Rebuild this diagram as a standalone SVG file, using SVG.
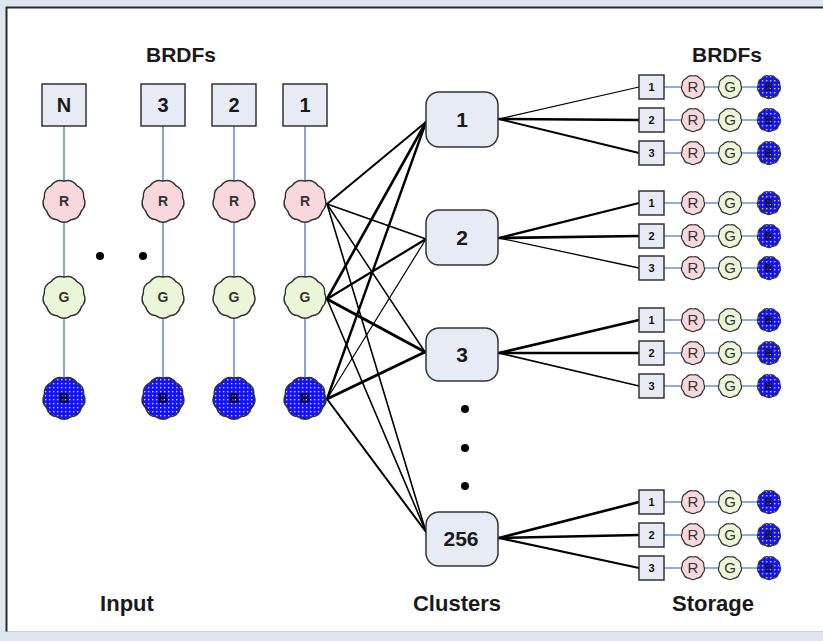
<svg xmlns="http://www.w3.org/2000/svg" xmlns:xlink="http://www.w3.org/1999/xlink" width="823" height="641" viewBox="0 0 823 641">
<style>
.lbl{font-family:"Liberation Sans",Arial,sans-serif;font-weight:bold;fill:#1a1a1a;text-anchor:middle}
.box{fill:#e6ebf5;stroke:#333;stroke-width:1.5}
.clu{fill:#e6ebf5;stroke:#333;stroke-width:1.5}
.bl{stroke:#6a92d4;stroke-width:1.6;fill:none}
.cn{stroke:#000;fill:none;stroke-linecap:round}
.ct{font-family:"Liberation Sans",Arial,sans-serif;font-weight:bold;font-size:14px;fill:#333;text-anchor:middle}
.cb{font-family:"Liberation Sans",Arial,sans-serif;font-weight:bold;font-size:14px;fill:#000;text-anchor:middle}
.st{font-family:"Liberation Sans",Arial,sans-serif;font-size:15px;fill:#333;text-anchor:middle}
.sb{font-family:"Liberation Sans",Arial,sans-serif;font-weight:bold;font-size:11px;fill:#111;text-anchor:middle}
.r{fill:#f8d8dc}.g{fill:#ebf6d8}.b{fill:url(#dots)}
</style>
<defs>
<pattern id="dots" width="4" height="4" patternUnits="userSpaceOnUse">
<rect width="4" height="4" fill="#1414f5"/>
<rect x="1" y="1" width="1.3" height="1.3" fill="#dfe3ff"/>
</pattern>
<path id="big" stroke="#333" stroke-width="1.5" d="M0,-20 A12,12 0 0 1 12.86,-15.32 A12,12 0 0 1 19.7,-3.47 A12,12 0 0 1 17.32,10 A12,12 0 0 1 6.84,18.79 A12,12 0 0 1 -6.84,18.79 A12,12 0 0 1 -17.32,10 A12,12 0 0 1 -19.7,-3.47 A12,12 0 0 1 -12.86,-15.32 A12,12 0 0 1 0,-20 Z"/>
<path id="sm" stroke="#333" stroke-width="1.2" d="M0,-11 A6.6,6.6 0 0 1 7.07,-8.43 A6.6,6.6 0 0 1 10.83,-1.91 A6.6,6.6 0 0 1 9.53,5.5 A6.6,6.6 0 0 1 3.76,10.34 A6.6,6.6 0 0 1 -3.76,10.34 A6.6,6.6 0 0 1 -9.53,5.5 A6.6,6.6 0 0 1 -10.83,-1.91 A6.6,6.6 0 0 1 -7.07,-8.43 A6.6,6.6 0 0 1 0,-11 Z"/>
</defs>
<rect width="823" height="641" fill="#dfe6f0"/>
<rect x="6.5" y="7.5" width="817" height="624" fill="#fff"/>
<path d="M6.5,631.5 H823" stroke="#c9d2dc" stroke-width="1"/>
<path d="M6.5,631.5 V7.5 H823" stroke="#2a2a2a" stroke-width="2" fill="none"/>

<text class="lbl" x="181" y="62" font-size="21">BRDFs</text>
<text class="lbl" x="727" y="62" font-size="21">BRDFs</text>
<text class="lbl" x="127" y="611" font-size="22">Input</text>
<text class="lbl" x="457" y="611" font-size="22">Clusters</text>
<text class="lbl" x="713" y="611" font-size="22">Storage</text>

<g id="connectors">
<path class="cn" stroke-width="2" d="M327,204 L426,122"/>
<path class="cn" stroke-width="1.8" d="M327,204 L426,239"/>
<path class="cn" stroke-width="1.5" d="M327,204 L425,352"/>
<path class="cn" stroke-width="1.6" d="M327,204 L426,532"/>
<path class="cn" stroke-width="2.6" d="M327,299 L426,122"/>
<path class="cn" stroke-width="2.2" d="M327,299 L426,239"/>
<path class="cn" stroke-width="3" d="M327,299 L425,352"/>
<path class="cn" stroke-width="1.6" d="M327,299 L426,532"/>
<path class="cn" stroke-width="2.4" d="M327,399 L426,122"/>
<path class="cn" stroke-width="1.2" d="M327,399 L426,239"/>
<path class="cn" stroke-width="3" d="M327,399 L425,352"/>
<path class="cn" stroke-width="2" d="M327,399 L426,532"/>
<path class="cn" stroke-width="1.2" d="M499,119 L639,87"/>
<path class="cn" stroke-width="2.6" d="M499,119 L639,120"/>
<path class="cn" stroke-width="2" d="M499,119 L639,153"/>
<path class="cn" stroke-width="2.2" d="M499,238 L639,203"/>
<path class="cn" stroke-width="2.6" d="M499,238 L639,236"/>
<path class="cn" stroke-width="1.3" d="M499,238 L639,268"/>
<path class="cn" stroke-width="2.6" d="M499,353 L639,320"/>
<path class="cn" stroke-width="2.4" d="M499,353 L639,353"/>
<path class="cn" stroke-width="1.6" d="M499,353 L639,386"/>
<path class="cn" stroke-width="2.6" d="M499,538 L639,502"/>
<path class="cn" stroke-width="2.6" d="M499,538 L639,535"/>
<path class="cn" stroke-width="2.2" d="M499,538 L639,568"/>
<path class="bl" d="M64,126 V398 M163,126 V398 M234,126 V398 M305,126 V398"/>
<path class="bl" d="M664,87 H769 M664,120 H769 M664,153 H769 M664,203 H769 M664,236 H769 M664,268 H769 M664,320 H769 M664,353 H769 M664,386 H769 M664,502 H769 M664,535 H769 M664,568 H769"/>
</g>

<g id="input-N">
<rect class="box" x="42" y="84" width="44" height="42"/><text class="lbl" x="64" y="112" font-size="20">N</text>
<use href="#big" class="r" x="64" y="201"/><text class="ct" x="64" y="206">R</text>
<use href="#big" class="g" x="64" y="297"/><text class="ct" x="64" y="302">G</text>
<use href="#big" class="b" x="64" y="398"/><text class="cb" x="64" y="403">B</text>
</g>
<g id="input-3">
<rect class="box" x="141" y="84" width="44" height="42"/><text class="lbl" x="163" y="112" font-size="20">3</text>
<use href="#big" class="r" x="163" y="201"/><text class="ct" x="163" y="206">R</text>
<use href="#big" class="g" x="163" y="297"/><text class="ct" x="163" y="302">G</text>
<use href="#big" class="b" x="163" y="398"/><text class="cb" x="163" y="403">B</text>
</g>
<g id="input-2">
<rect class="box" x="212" y="84" width="44" height="42"/><text class="lbl" x="234" y="112" font-size="20">2</text>
<use href="#big" class="r" x="234" y="201"/><text class="ct" x="234" y="206">R</text>
<use href="#big" class="g" x="234" y="297"/><text class="ct" x="234" y="302">G</text>
<use href="#big" class="b" x="234" y="398"/><text class="cb" x="234" y="403">B</text>
</g>
<g id="input-1">
<rect class="box" x="283" y="84" width="44" height="42"/><text class="lbl" x="305" y="112" font-size="20">1</text>
<use href="#big" class="r" x="305" y="201"/><text class="ct" x="305" y="206">R</text>
<use href="#big" class="g" x="305" y="297"/><text class="ct" x="305" y="302">G</text>
<use href="#big" class="b" x="305" y="398"/><text class="cb" x="305" y="403">B</text>
</g>
<g id="input-dots" fill="#000">
<circle cx="100" cy="256" r="4"/><circle cx="143" cy="256" r="4"/>
</g>

<g id="cluster-1"><rect class="clu" x="426" y="92" width="72" height="55" rx="13"/><text class="lbl" x="462" y="127" font-size="21">1</text></g>
<g id="cluster-2"><rect class="clu" x="426" y="210" width="72" height="55" rx="13"/><text class="lbl" x="462" y="245" font-size="21">2</text></g>
<g id="cluster-3"><rect class="clu" x="426" y="328" width="72" height="53" rx="13"/><text class="lbl" x="462" y="362" font-size="21">3</text></g>
<g id="cluster-256"><rect class="clu" x="426" y="512" width="72" height="54" rx="13"/><text class="lbl" x="461" y="546" font-size="21">256</text></g>
<g id="cluster-dots" fill="#000">
<circle cx="465" cy="409" r="4"/><circle cx="465" cy="448" r="4"/><circle cx="465" cy="486" r="4"/>
</g>

<g id="storage-1">
<rect class="box" x="639" y="75" width="25" height="24"/><text class="sb" x="651.5" y="91">1</text>
<use href="#sm" class="r" x="693" y="87"/><text class="st" x="693" y="92">R</text>
<use href="#sm" class="g" x="730" y="87"/><text class="st" x="730" y="92">G</text>
<use href="#sm" class="b" x="769" y="87"/><text class="sb" x="769" y="91">B</text>
<rect class="box" x="639" y="108" width="25" height="24"/><text class="sb" x="651.5" y="124">2</text>
<use href="#sm" class="r" x="693" y="120"/><text class="st" x="693" y="125">R</text>
<use href="#sm" class="g" x="730" y="120"/><text class="st" x="730" y="125">G</text>
<use href="#sm" class="b" x="769" y="120"/><text class="sb" x="769" y="124">B</text>
<rect class="box" x="639" y="141" width="25" height="24"/><text class="sb" x="651.5" y="157">3</text>
<use href="#sm" class="r" x="693" y="153"/><text class="st" x="693" y="158">R</text>
<use href="#sm" class="g" x="730" y="153"/><text class="st" x="730" y="158">G</text>
<use href="#sm" class="b" x="769" y="153"/><text class="sb" x="769" y="157">B</text>
</g>
<g id="storage-2">
<rect class="box" x="639" y="191" width="25" height="24"/><text class="sb" x="651.5" y="207">1</text>
<use href="#sm" class="r" x="693" y="203"/><text class="st" x="693" y="208">R</text>
<use href="#sm" class="g" x="730" y="203"/><text class="st" x="730" y="208">G</text>
<use href="#sm" class="b" x="769" y="203"/><text class="sb" x="769" y="207">B</text>
<rect class="box" x="639" y="224" width="25" height="24"/><text class="sb" x="651.5" y="240">2</text>
<use href="#sm" class="r" x="693" y="236"/><text class="st" x="693" y="241">R</text>
<use href="#sm" class="g" x="730" y="236"/><text class="st" x="730" y="241">G</text>
<use href="#sm" class="b" x="769" y="236"/><text class="sb" x="769" y="240">B</text>
<rect class="box" x="639" y="256" width="25" height="24"/><text class="sb" x="651.5" y="272">3</text>
<use href="#sm" class="r" x="693" y="268"/><text class="st" x="693" y="273">R</text>
<use href="#sm" class="g" x="730" y="268"/><text class="st" x="730" y="273">G</text>
<use href="#sm" class="b" x="769" y="268"/><text class="sb" x="769" y="272">B</text>
</g>
<g id="storage-3">
<rect class="box" x="639" y="308" width="25" height="24"/><text class="sb" x="651.5" y="324">1</text>
<use href="#sm" class="r" x="693" y="320"/><text class="st" x="693" y="325">R</text>
<use href="#sm" class="g" x="730" y="320"/><text class="st" x="730" y="325">G</text>
<use href="#sm" class="b" x="769" y="320"/><text class="sb" x="769" y="324">B</text>
<rect class="box" x="639" y="341" width="25" height="24"/><text class="sb" x="651.5" y="357">2</text>
<use href="#sm" class="r" x="693" y="353"/><text class="st" x="693" y="358">R</text>
<use href="#sm" class="g" x="730" y="353"/><text class="st" x="730" y="358">G</text>
<use href="#sm" class="b" x="769" y="353"/><text class="sb" x="769" y="357">B</text>
<rect class="box" x="639" y="374" width="25" height="24"/><text class="sb" x="651.5" y="390">3</text>
<use href="#sm" class="r" x="693" y="386"/><text class="st" x="693" y="391">R</text>
<use href="#sm" class="g" x="730" y="386"/><text class="st" x="730" y="391">G</text>
<use href="#sm" class="b" x="769" y="386"/><text class="sb" x="769" y="390">B</text>
</g>
<g id="storage-256">
<rect class="box" x="639" y="490" width="25" height="24"/><text class="sb" x="651.5" y="506">1</text>
<use href="#sm" class="r" x="693" y="502"/><text class="st" x="693" y="507">R</text>
<use href="#sm" class="g" x="730" y="502"/><text class="st" x="730" y="507">G</text>
<use href="#sm" class="b" x="769" y="502"/><text class="sb" x="769" y="506">B</text>
<rect class="box" x="639" y="523" width="25" height="24"/><text class="sb" x="651.5" y="539">2</text>
<use href="#sm" class="r" x="693" y="535"/><text class="st" x="693" y="540">R</text>
<use href="#sm" class="g" x="730" y="535"/><text class="st" x="730" y="540">G</text>
<use href="#sm" class="b" x="769" y="535"/><text class="sb" x="769" y="539">B</text>
<rect class="box" x="639" y="556" width="25" height="24"/><text class="sb" x="651.5" y="572">3</text>
<use href="#sm" class="r" x="693" y="568"/><text class="st" x="693" y="573">R</text>
<use href="#sm" class="g" x="730" y="568"/><text class="st" x="730" y="573">G</text>
<use href="#sm" class="b" x="769" y="568"/><text class="sb" x="769" y="572">B</text>
</g>
</svg>
